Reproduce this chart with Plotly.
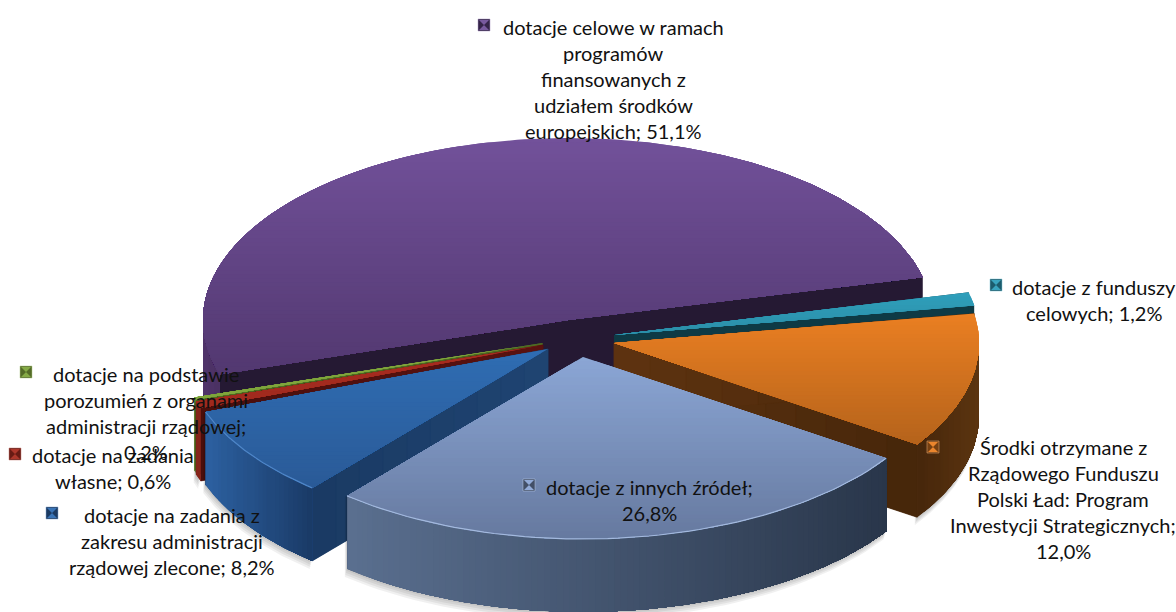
import numpy as np
import plotly.graph_objects as go

CATEGORIES = [
    "dotacje celowe w ramach programów finansowanych z udziałem środków europejskich",
    "dotacje z funduszy celowych",
    "Środki otrzymane z Rządowego Funduszu Polski Ład: Program Inwestycji Strategicznych",
    "dotacje z innych źródeł",
    "dotacje na zadania z zakresu administracji rządowej zlecone",
    "dotacje na zadania własne",
    "dotacje na podstawie porozumień z organami administracji rządowej",
]
VALUES = [51.1, 1.2, 12.0, 26.8, 8.2, 0.6, 0.2]

LABEL_LINES = [
    ["dotacje celowe w ramach", "programów", "finansowanych z", "udziałem środków", "europejskich; 51,1%"],
    ["dotacje z funduszy", "celowych; 1,2%"],
    ["Środki otrzymane z", "Rządowego Funduszu", "Polski Ład: Program", "Inwestycji Strategicznych;", "12,0%"],
    ["dotacje z innych źródeł;", "26,8%"],
    ["dotacje na zadania z", "zakresu administracji", "rządowej zlecone; 8,2%"],
    ["dotacje na zadania", "własne; 0,6%"],
    ["dotacje na podstawie", "porozumień z organami", "administracji rządowej;", "0,2%"],
]

# layout of labels: centre x, first line y, key x, key y
LABEL_POS = [
    (613, 27, 484, 25), (1094, 287, 996, 285), (1063, 447, 933, 447), (649, 487, 529, 485),
    (172, 515, 52, 513), (113, 455, 15, 454), (146, 374, 26, 372),
]
LINE_STEP = 26
FONT = "Lato"
FONT_SIZE = 20

# 3-D look
RX, RY, H = 365.0, 182.0, 73.0
START_ANGLE = 197.4
APEX = [(568, 320), (614, 335), (614, 343), (583, 357), (548, 349), (543, 345), (542.5, 343)]
TOP_COL = [("#72519a", "#523870"), ("#2f9fbb", "#2b8ea8"), ("#ea7f22", "#b5631b"), ("#8ba6d5", "#66799f"),
           ("#2f6db3", "#2a5a97"), ("#a92c20", "#a02a1e"), ("#7fa53c", "#7fa53c")]
WALL_COL = [("#50346a", "#4a3062"), ("#125060", "#125060"), ("#46260b", "#5c3510"), ("#5a6f8f", "#29364a"),
            ("#2c60a0", "#1a3a66"), ("#8f281c", "#7e2018"), ("#6b8b31", "#6b8b31")]
CUT_COL = [("#251933", "#251933"), ("#0e3a45", "#0e3a45"), ("#5e3310", "#46260a"), ("#3a4a66", "#3a4a66"),
           ("#1f4472", "#1a3a63"), ("#5a1210", "#4a0f0c"), ("#4e6a22", "#4e6a22")]
RIM_COL = [None, None, None, "#a3b9de", "#4f86c8", None, None]
DRAW_ORDER = [0, 1, 2, 6, 5, 4, 3]
SHADOW = {2, 3, 4, 5}


def rgb(h):
    return np.array([int(h[i:i + 2], 16) for i in (1, 3, 5)], float)


def mix(a, b, t):
    c = rgb(a) * (1 - t) + rgb(b) * t
    return "rgb(%d,%d,%d)" % tuple(np.round(c))


def clip(poly, y, keep_below):
    out = []
    n = len(poly)
    for i in range(n):
        p, q = poly[i], poly[(i + 1) % n]
        ip = (p[1] >= y) if keep_below else (p[1] <= y)
        iq = (q[1] >= y) if keep_below else (q[1] <= y)
        if ip:
            out.append(p)
        if ip != iq:
            t = (y - p[1]) / (q[1] - p[1])
            out.append((p[0] + t * (q[0] - p[0]), y))
    return out


fig = go.Figure()


def fill(poly, color, lw=0.0):
    xs = [p[0] for p in poly] + [poly[0][0]]
    ys = [p[1] for p in poly] + [poly[0][1]]
    fig.add_trace(go.Scatter(x=xs, y=ys, mode="lines", fill="toself", fillcolor=color,
                             line=dict(color=color, width=lw), hoverinfo="skip", showlegend=False))


total = sum(VALUES)
# the slices run clockwise from the right end of the first one
spans = []
a = START_ANGLE - VALUES[0] / total * 360.0
spans.append((a, START_ANGLE))
for v in VALUES[1:]:
    b = a - v / total * 360.0
    spans.append((b, a))
    a = b


def pt(i, deg, dy=0.0):
    cx, cy = APEX[i]
    t = np.radians(deg)
    return (cx + RX * np.cos(t), cy - RY * np.sin(t) + dy)


def front_ranges(lo, hi):
    """parts of [lo,hi] degrees where the outer wall faces the viewer"""
    res = []
    for k in (-360, 0, 360):
        l, h = max(lo, -180 + k), min(hi, 0 + k)
        if h > l:
            res.append((l, h))
    return res


for i in DRAW_ORDER:
    lo, hi = spans[i]
    cx, cy = APEX[i]
    ranges = front_ranges(lo, hi)

    if i in SHADOW:
        for l, h in ranges:
            ang = np.linspace(l, h, 60)
            for d in (2, 4, 6, 8):
                poly = [pt(i, x, H + d) for x in ang] + [pt(i, x, 0) for x in ang[::-1]]
                poly = [(p[0] - d * 0.3, p[1]) for p in poly]
                fill(poly, "rgba(0,0,0,0.06)")

    # cut faces: a solid base, then the gradient pieces over it
    for deg in (lo, hi):
        ex, ey = pt(i, deg)
        fill([(cx, cy), (ex, ey), (ex, ey + H), (cx, cy + H)], mix(CUT_COL[i][0], CUT_COL[i][1], 0.5))
        if CUT_COL[i][0] != CUT_COL[i][1]:
            n = 10
            for k in range(n):
                t0, t1 = k / n, (k + 1) / n
                x0, y0 = cx + (ex - cx) * t0, cy + (ey - cy) * t0
                x1, y1 = cx + (ex - cx) * t1, cy + (ey - cy) * t1
                fill([(x0, y0), (x1, y1), (x1, y1 + H), (x0, y0 + H)],
                     mix(CUT_COL[i][0], CUT_COL[i][1], (t0 + t1) / 2), lw=0.5)

    # outer wall: solid base, then slices coloured by x
    for l, h in ranges:
        n = max(2, int((h - l) / 1.0))
        ang = np.linspace(l, h, n + 1)
        top_pts = [pt(i, x) for x in ang]
        bot_pts = [pt(i, x, H) for x in ang[::-1]]
        fill(top_pts + bot_pts, mix(WALL_COL[i][0], WALL_COL[i][1], 0.5))
        xmin, xmax = min(p[0] for p in top_pts), max(p[0] for p in top_pts)
        if WALL_COL[i][0] != WALL_COL[i][1]:
            nb = max(1, int((xmax - xmin) / 5))
            cuts = np.linspace(xmin, xmax, nb + 1)
            for k in range(nb):
                # every piece reaches to the far right end, so later pieces overlap earlier ones
                seg = [a_ for a_ in ang if cuts[k] - 1e-6 <= pt(i, a_)[0]]
                if len(seg) < 2:
                    continue
                edge = [pt(i, a_) for a_ in seg]
                fill(edge + [(p[0], p[1] + H) for p in edge[::-1]],
                     mix(WALL_COL[i][0], WALL_COL[i][1], (k + 0.5) / nb))

    # top face with a vertical gradient: each band reaches down to the slice bottom
    ang = np.linspace(lo, hi, 160)
    poly = [(float(cx), float(cy))] + [pt(i, x) for x in ang]
    ymin = min(p[1] for p in poly)
    ymax = max(p[1] for p in poly)
    nb = max(1, int((ymax - ymin) / 4))
    edges = np.linspace(ymin, ymax, nb + 1)
    for k in range(nb):
        piece = clip(poly, edges[k], True)
        if len(piece) >= 3:
            fill(piece, mix(TOP_COL[i][0], TOP_COL[i][1], (k + 0.5) / nb))

    if RIM_COL[i]:
        pts = [pt(i, x) for x in np.linspace(lo, hi, 60)]
        fig.add_trace(go.Scatter(x=[p[0] for p in pts], y=[p[1] for p in pts], mode="lines",
                                 line=dict(color=RIM_COL[i], width=1.2), hoverinfo="skip", showlegend=False))

# legend keys and data labels
for i in range(len(VALUES)):
    tx, ty, kx, ky = LABEL_POS[i]
    dark = mix(TOP_COL[i][1], "#000000", 0.35)
    light = mix(TOP_COL[i][0], "#ffffff", 0.05)
    fig.add_trace(go.Scatter(x=[kx], y=[ky], mode="markers", hoverinfo="skip", showlegend=False,
                             marker=dict(symbol="square", size=12, color=dark,
                                         line=dict(color=mix(TOP_COL[i][0], "#ffffff", 0.4), width=0.5))))
    fig.add_trace(go.Scatter(x=[kx], y=[ky], mode="markers", hoverinfo="skip", showlegend=False,
                             marker=dict(symbol="hourglass", size=10, color=light, line=dict(width=0))))
    for j, line in enumerate(LABEL_LINES[i]):
        fig.add_annotation(x=tx, y=ty + j * LINE_STEP, text=line, showarrow=False, xanchor="center", yanchor="middle",
                           font=dict(family=FONT, size=FONT_SIZE, color="#111111"))

fig.update_layout(
    width=1176, height=612, margin=dict(l=0, r=0, t=0, b=0),
    paper_bgcolor="white", plot_bgcolor="white", showlegend=False,
    xaxis=dict(range=[0, 1176], visible=False, fixedrange=True),
    yaxis=dict(range=[612, 0], visible=False, fixedrange=True),
)
fig.write_html("out.html", post_script="document.body.style.margin='0';", config={"displayModeBar": False})
